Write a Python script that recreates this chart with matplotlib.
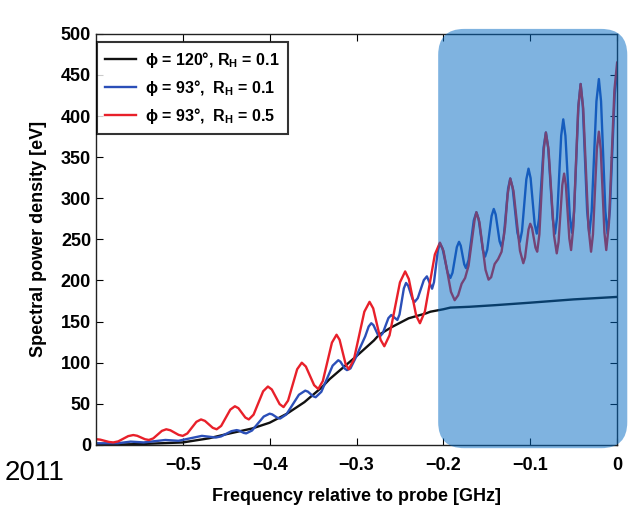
import numpy as np
import matplotlib
matplotlib.use('Agg')
import matplotlib.pyplot as plt
from matplotlib.patches import FancyBboxPatch

plt.rcParams['font.family'] = ['Liberation Sans', 'DejaVu Sans']
plt.rcParams['font.weight'] = 'bold'
plt.rcParams['mathtext.fontset'] = 'custom'
plt.rcParams['mathtext.rm'] = 'Liberation Sans:bold'
plt.rcParams['mathtext.it'] = 'Liberation Sans:bold'
plt.rcParams['mathtext.bf'] = 'Liberation Sans:bold'

# phi = 120 deg, R_H = 0.1 (black)
black_x = [-0.600, -0.550, -0.500, -0.470, -0.450, -0.420, -0.400, -0.380, -0.360,
           -0.340, -0.331, -0.320, -0.300, -0.280, -0.274, -0.260, -0.240, -0.220,
           -0.215, -0.200, -0.192, -0.170, -0.140, -0.100, -0.050, 0.000]
black_y = [0, 1, 3, 8, 13, 20, 27, 38, 52, 70, 80, 90, 108, 127, 134, 143, 154, 160,
           162, 165, 167, 168, 170, 173, 177, 180]

# phi = 93 deg, R_H = 0.1 (blue)
blue_x = [-0.600, -0.575, -0.560, -0.545, -0.520, -0.505, -0.478, -0.462, -0.456,
          -0.444, -0.438, -0.4353, -0.4298, -0.427, -0.4203, -0.4068, -0.400, -0.397,
          -0.391, -0.388, -0.3808, -0.3663, -0.359, -0.356, -0.350, -0.347, -0.3405,
          -0.3275, -0.321, -0.3185, -0.3135, -0.311, -0.307, -0.300, -0.296, -0.290,
          -0.286, -0.283, -0.2805, -0.2755, -0.273, -0.2698, -0.2633, -0.260, -0.253,
          -0.2505, -0.2455, -0.243, -0.2405, -0.2355, -0.233, -0.2295, -0.2225, -0.219,
          -0.213, -0.2108, -0.2063, -0.204, -0.201, -0.195, -0.192, -0.1895, -0.1845,
          -0.182, -0.180, -0.176, -0.174, -0.171, -0.165, -0.162, -0.1595, -0.1545,
          -0.152, -0.1495, -0.1445, -0.142, -0.1398, -0.1353, -0.133, -0.1305, -0.1255,
          -0.123, -0.1203, -0.1148, -0.112, -0.1095, -0.1045, -0.102, -0.0996, -0.0949,
          -0.0925, -0.0899, -0.0846, -0.082, -0.0794, -0.0741, -0.0715, -0.0691,
          -0.0644, -0.062, -0.0595, -0.0545, -0.052, -0.0495, -0.0445, -0.042, -0.0395,
          -0.0345, -0.032, -0.0293, -0.0238, -0.021, -0.0185, -0.0135, -0.011, -0.0083,
          -0.0028, 0.000]
blue_y = [2, 2, 4, 3, 6, 5, 11, 9, 10.3, 16.7, 18, 17.4, 14.6, 14, 17.5, 34.5, 38, 37.1,
          32.9, 32, 37, 61, 66, 64.8, 59.2, 58, 64.6, 96.4, 103, 101.2, 92.8, 91, 93, 108,
          118, 132, 144, 148, 145.7, 134.3, 132, 135.8, 154.2, 158, 152, 158.6, 190.4,
          197, 193.6, 177.4, 174, 178.5, 200.5, 205, 190, 198, 237, 245, 238.9, 209.1,
          203, 209.4, 240.6, 247, 242.3, 219.7, 215, 224.9, 273.1, 283, 275.1, 236.9,
          229, 237.5, 278.5, 287, 280.3, 247.7, 241, 253.1, 311.9, 324, 312.8, 258.2,
          247, 260, 323, 336, 324.5, 268.5, 257, 275, 362, 380, 362, 275, 257, 277, 376,
          396, 376, 278, 258, 284, 413, 439, 412, 284, 257, 284, 418, 445, 418, 284,
          257, 286, 426, 455]

# phi = 93 deg, R_H = 0.5 (red)
red_x = [-0.600, -0.595, -0.585, -0.580, -0.5743, -0.5628, -0.557, -0.5525, -0.5435,
         -0.539, -0.534, -0.524, -0.519, -0.5143, -0.5048, -0.500, -0.4948, -0.4843,
         -0.479, -0.4745, -0.4655, -0.461, -0.4558, -0.4453, -0.440, -0.436, -0.428,
         -0.424, -0.4185, -0.4075, -0.402, -0.3975, -0.3885, -0.384, -0.3788, -0.3683,
         -0.363, -0.3583, -0.3488, -0.344, -0.3388, -0.3283, -0.323, -0.3195, -0.3125,
         -0.309, -0.303, -0.291, -0.285, -0.2808, -0.2723, -0.268, -0.262, -0.250,
         -0.244, -0.2398, -0.2313, -0.227, -0.2213, -0.2098, -0.204, -0.1998, -0.1913,
         -0.187, -0.183, -0.179, -0.175, -0.171, -0.167, -0.164, -0.162, -0.1585,
         -0.1515, -0.148, -0.145, -0.141, -0.137, -0.133, -0.129, -0.126, -0.123,
         -0.1193, -0.1118, -0.108, -0.106, -0.102, -0.100, -0.098, -0.094, -0.092,
         -0.0895, -0.0845, -0.082, -0.0789, -0.0726, -0.0695, -0.0674, -0.0631, -0.061,
         -0.059, -0.055, -0.053, -0.0503, -0.0448, -0.042, -0.039, -0.033, -0.030,
         -0.0278, -0.0233, -0.021, -0.0189, -0.0146, -0.0125, -0.0094, -0.0031, 0.000]
red_y = [7, 6.4, 3.6, 3, 4.3, 10.7, 12, 11.1, 6.9, 6, 7.9, 17.1, 19, 17.8, 12.2, 11, 13.9,
         28.1, 31, 29.2, 20.8, 19, 23.1, 42.9, 47, 44.7, 33.3, 31, 36.8, 65.2, 71, 67.4,
         49.6, 46, 53.9, 92.1, 100, 95.3, 72.7, 68, 77.6, 124.4, 134, 127.9, 98.1, 92,
         104, 162, 174, 166.1, 127.9, 120, 133.3, 197.7, 211, 201.8, 157.2, 148, 162.3,
         231.7, 246, 235.8, 186.2, 176, 182, 196, 203, 218, 250, 274, 283, 271, 213,
         201, 204, 220, 226, 235, 265, 305, 324, 309, 236, 221, 228, 262, 269, 264, 240,
         235, 256, 359, 380, 358.5, 254.5, 233, 247, 316, 330, 316, 251, 237, 266.5,
         409.5, 439, 409, 265, 235, 256, 360, 381, 360, 258, 237, 270, 432, 465]

labels = ['ϕ = 120°, R$_\\mathrm{H}$ = 0.1',
          'ϕ = 93°,  R$_\\mathrm{H}$ = 0.1',
          'ϕ = 93°,  R$_\\mathrm{H}$ = 0.5']
xticks = [-0.5, -0.4, -0.3, -0.2, -0.1, 0]
xticklabels = ['\u22120.5', '\u22120.4', '\u22120.3', '\u22120.2', '\u22120.1', '0']
yticks = np.arange(0, 501, 50)

fig = plt.figure(figsize=(6.31, 5.05), dpi=100)
ax = fig.add_axes([0.152, 0.119, 0.826, 0.814])

ax.plot(black_x, black_y, color='#111111', lw=1.7, label=labels[0])
ax.plot(blue_x, blue_y, color='#2b4fb8', lw=1.7, label=labels[1])
ax.plot(red_x, red_y, color='#e8202a', lw=1.7, label=labels[2])

ax.set_xlim(-0.6, 0)
ax.set_ylim(0, 500)
ax.set_xticks(xticks)
ax.set_xticklabels(xticklabels)
ax.set_yticks(yticks)
ax.tick_params(direction='in', top=True, right=True, length=5, labelsize=13, width=0.8)
ax.tick_params(axis='x', pad=9)
for s in ax.spines.values():
    s.set_linewidth(1.0)
    s.set_color('#222222')

ax.set_xlabel('Frequency relative to probe [GHz]', fontsize=13, fontweight='bold', labelpad=10)
ax.set_ylabel('Spectral power density [eV]', fontsize=13, fontweight='bold', labelpad=10)

leg = ax.legend(loc='upper left', bbox_to_anchor=(0.003, 0.98), borderaxespad=0,
                fancybox=False, fontsize=11.5, handlelength=1.9, labelspacing=0.5,
                borderpad=0.5, handletextpad=0.6)
leg.get_frame().set_edgecolor('black')
leg.get_frame().set_linewidth(1.5)

# highlighted region (rounded box over the right part)
box = FancyBboxPatch((-0.206, -4), 0.2177, 510,
                     boxstyle='round,pad=0,rounding_size=0.03', mutation_aspect=1056,
                     transform=ax.transData, clip_on=False, fc='#0169c3', ec='none',
                     alpha=0.5, zorder=5)
ax.add_patch(box)

fig.text(0.054, 0.064, '2011', fontsize=20, fontweight='normal', ha='center', va='center')

fig.savefig('out.png', dpi=100)
